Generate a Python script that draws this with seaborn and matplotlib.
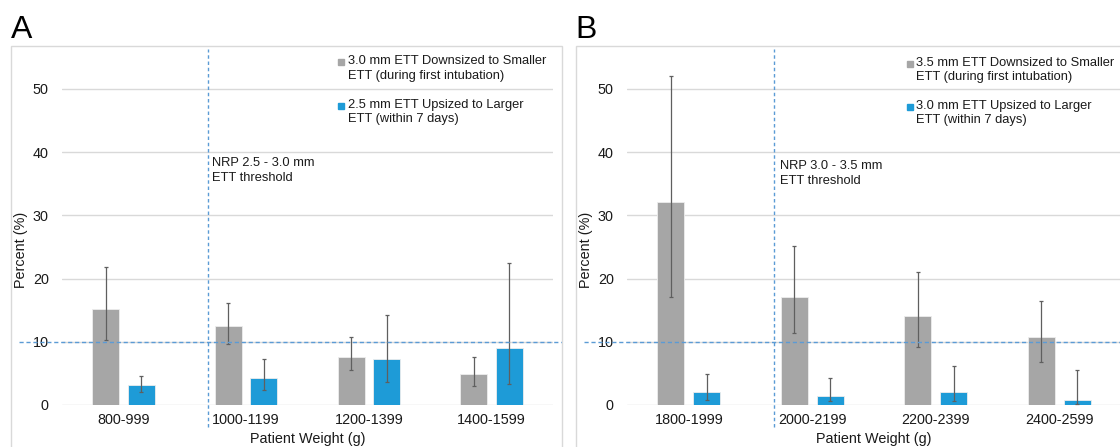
import numpy as np
import pandas as pd
import seaborn as sns
import matplotlib.pyplot as plt
from matplotlib.patches import Rectangle

# panel A
weights_a = ["800-999", "1000-1199", "1200-1399", "1400-1599"]
down_a = [15.2, 12.5, 7.6, 4.9]
down_a_lo = [10.3, 9.7, 5.5, 3.0]
down_a_hi = [21.9, 16.1, 10.7, 7.6]
up_a = [3.1, 4.3, 7.35, 9.0]
up_a_lo = [2.0, 2.4, 3.7, 3.4]
up_a_hi = [4.65, 7.3, 14.2, 22.4]
labels_a = ["3.0 mm ETT Downsized to Smaller\nETT (during first intubation)",
            "2.5 mm ETT Upsized to Larger\nETT (within 7 days)"]
note_a = "NRP 2.5 - 3.0 mm\nETT threshold"

# panel B
weights_b = ["1800-1999", "2000-2199", "2200-2399", "2400-2599"]
down_b = [32.1, 17.1, 14.1, 10.7]
down_b_lo = [17.1, 11.4, 9.2, 6.8]
down_b_hi = [52.0, 25.2, 21.1, 16.5]
up_b = [2.0, 1.36, 2.0, 0.84]
up_b_lo = [0.84, 0.57, 0.63, 0.1]
up_b_hi = [4.85, 4.3, 6.1, 5.6]
labels_b = ["3.5 mm ETT Downsized to Smaller\nETT (during first intubation)",
            "3.0 mm ETT Upsized to Larger\nETT (within 7 days)"]
note_b = "NRP 3.0 - 3.5 mm\nETT threshold"

threshold = 10
yticks = [0, 10, 20, 30, 40, 50]

GRAY = "#A6A6A6"
BLUE = "#1E9BD7"
ERR = "#5F5F5F"
GRID = "#D9D9D9"
DASH = "#5B9BD5"
TXT = "#1A1A1A"

sns.set_style("white")
plt.rcParams['font.family'] = ['Liberation Sans', 'DejaVu Sans']


def draw_panel(ax, cats, down, down_lo, down_hi, up, up_lo, up_hi, labels, note, note_xy, leg_x, leg_y, hline_right):
    df = pd.DataFrame({"weight": cats * 2, "pct": down + up,
                       "group": [labels[0]] * len(cats) + [labels[1]] * len(cats)})
    sns.barplot(data=df, x="weight", y="pct", hue="group", palette=[GRAY, BLUE],
                saturation=1, width=0.58, gap=0.24, errorbar=None,
                edgecolor="#EDEDED", linewidth=0.6, legend=False, ax=ax)
    for cont, vals, lo, hi in zip(ax.containers, [down, up], [down_lo, up_lo], [down_hi, up_hi]):
        xs = [b.get_x() + b.get_width() / 2 for b in cont]
        vals = np.array(vals)
        yerr = [vals - np.array(lo), np.array(hi) - vals]
        ax.errorbar(xs, vals, yerr=yerr, fmt="none", ecolor=ERR, elinewidth=0.9,
                    capsize=1.4, capthick=0.9, zorder=3)

    ax.set_xlim(-0.5, 3.5)
    ax.set_ylim(0, 55)
    ax.set_yticks(yticks)
    ax.yaxis.grid(True, color=GRID, lw=1)
    ax.set_axisbelow(True)
    sns.despine(ax=ax, left=True, bottom=True)
    ax.tick_params(axis="both", length=0, labelsize=10.4, colors=TXT)
    ax.tick_params(axis="y", pad=9.5)
    ax.tick_params(axis="x", pad=6)

    ax.set_xlabel("Patient Weight (g)", fontsize=10.4, color=TXT)
    ax.xaxis.set_label_coords(0.5, -0.078)
    ax.set_ylabel("Percent (%)", fontsize=10.4, color=TXT)
    ax.yaxis.label.set_va("center")
    ax.yaxis.set_label_coords(-0.083, 0.446)

    # threshold lines
    ax.plot([-0.85, hline_right], [threshold, threshold], color=DASH, lw=1,
            ls=(0, (3, 2)), clip_on=False, zorder=4)
    ax.plot([0.69, 0.69], [-3.5, 56.3], color=DASH, lw=1, ls=(0, (2.5, 2)),
            clip_on=False, zorder=4)
    ax.text(note_xy[0], note_xy[1], note, fontsize=9.3, color=TXT, va="top",
            ha="left", linespacing=1.25)

    # legend
    for lab, col, y in zip(labels, [GRAY, BLUE], leg_y):
        ax.text(leg_x, y, lab, transform=ax.transAxes, fontsize=9.3, color=TXT,
                va="top", ha="left", linespacing=1.25, clip_on=False)
        ax.plot([leg_x - 0.0125], [y - 0.02], marker="s", ms=4.6, color=col,
                transform=ax.transAxes, clip_on=False)


fig = plt.figure(figsize=(11.2, 4.47), dpi=100)
ax_a = fig.add_axes([62 / 1120, 42 / 447, 491 / 1120, 347.6 / 447])
ax_b = fig.add_axes([627 / 1120, 42 / 447, 494 / 1120, 347.6 / 447])

draw_panel(ax_a, weights_a, down_a, down_a_lo, down_a_hi, up_a, up_a_lo, up_a_hi,
           labels_a, note_a, (0.72, 39.2), 0.5815, [1.006, 0.880], 3.57)
draw_panel(ax_b, weights_b, down_b, down_b_lo, down_b_hi, up_b, up_b_lo, up_b_hi,
           labels_b, note_b, (0.74, 38.7), 0.585, [1.001, 0.877], 4.2)

# panel frames and letters
fig.add_artist(Rectangle((10.7 / 1120, -0.05), (562 - 10.7) / 1120, 1 - 46 / 447 + 0.05,
                         transform=fig.transFigure, fill=False, ec=GRID, lw=1))
fig.add_artist(Rectangle((575.7 / 1120, -0.05), (1130 - 575.7) / 1120, 1 - 46 / 447 + 0.05,
                         transform=fig.transFigure, fill=False, ec=GRID, lw=1))
fig.text(11 / 1120, 1 - 38 / 447, "A", fontsize=23, color="black", va="baseline")
fig.text(575 / 1120, 1 - 38 / 447, "B", fontsize=23, color="black", va="baseline")

fig.savefig("out.png", dpi=100)
